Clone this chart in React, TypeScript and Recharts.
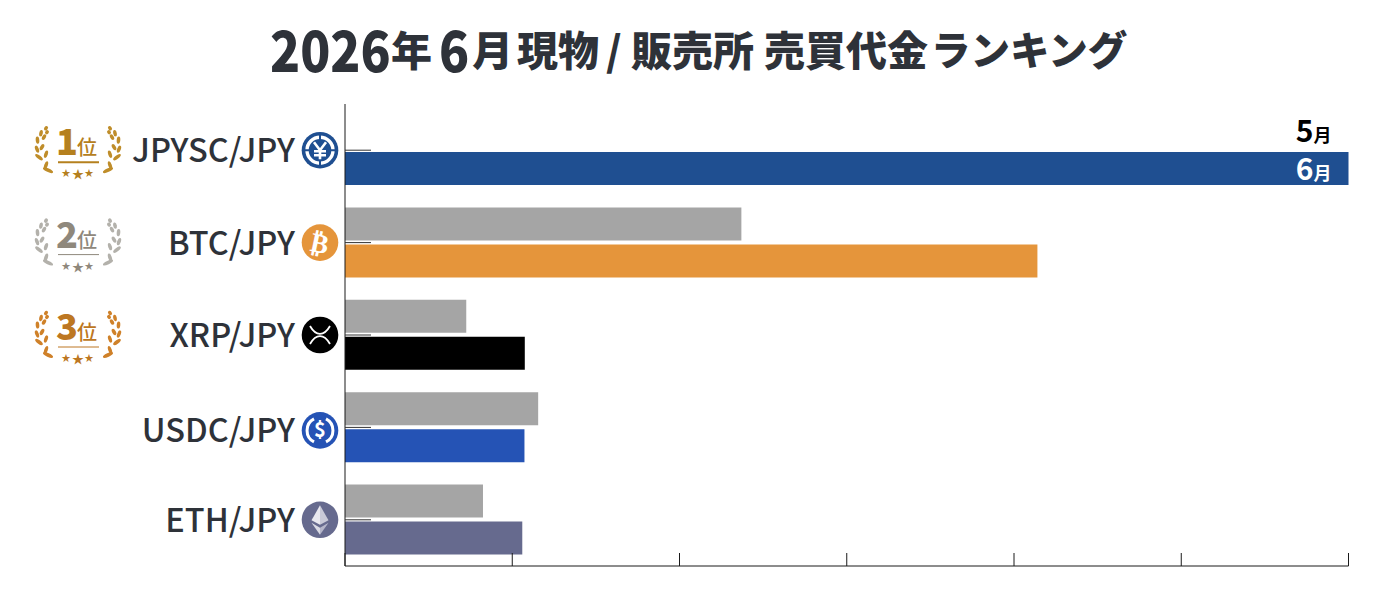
import React from "react";
import { BarChart, Bar, XAxis, YAxis, Cell } from "recharts";

const pairs = ["JPYSC/JPY", "BTC/JPY", "XRP/JPY", "USDC/JPY", "ETH/JPY"];
const mayValues = [0, 237, 72.5, 115.5, 82.5];
const juneValues = [600, 414, 107.5, 107.3, 106];
const juneColors = ["#1F4F91", "#E5953B", "#000000", "#2553B5", "#666A8E"];
const xTicks = [0, 100, 200, 300, 400, 500, 600];
const rankLabels = ["1", "2", "3"];
const rankColors = ["#B5801E", "#8F887C", "#BD7722"];
const wreathColors = ["#BF8D2A", "#B3B1AB", "#CF8129"];
const MAY_LABEL = "5月";
const JUNE_LABEL = "6月";
const titleParts = [
  { text: "2026", left: 270, digit: true },
  { text: "年", left: 391 },
  { text: "6", left: 439, digit: true },
  { text: "月", left: 472 },
  { text: "現物", left: 517 },
  { text: "/", left: 606 },
  { text: "販売所", left: 631 },
  { text: "売買代金", left: 764 },
  { text: "ランキング", left: 931, size: 39.5 },
];

const rows = pairs.map((pair, i) => ({ pair, may: mayValues[i], june: juneValues[i] }));
const FONT = "'Noto Sans CJK JP', 'Noto Sans', sans-serif";
const INK = "#2E3239";

function Wreath({ color, side }: { color: string; side: number }) {
  const leaves = [
    [6, 19, 25, 5.5], [-3, 6, 38, 4.6], [-5, -2, 70, 3.8], [-4.5, -11, 85, 3.6], [-1, -18, 100, 3.2], [4, -23, 125, 2.4],
    [4, 14, -72, 4.2], [4, 3, -72, 3.8], [0, -4, -60, 3.4], [2, -14, -60, 3], [5, -19, -55, 2.2],
  ];
  return (
    <g transform={`scale(${side},1)`}>
      {leaves.map(([x, y, r, len], i) => (
        <ellipse key={i} cx={x} cy={y} rx={len} ry={1.8} fill={color} transform={`rotate(${r} ${x} ${y})`} />
      ))}
    </g>
  );
}

function RankBadge({ index }: { index: number }) {
  const c = rankColors[index];
  const w = wreathColors[index];
  return (
    <g>
      <g transform="translate(-36,0)"><Wreath color={w} side={1} /></g>
      <g transform="translate(36,0)"><Wreath color={w} side={-1} /></g>
      <text x={-11} y={4} textAnchor="middle" fontFamily={FONT} fontWeight={900} fontSize={36} fill={c}>{rankLabels[index]}</text>
      <text x={9} y={4} textAnchor="middle" fontFamily={FONT} fontWeight={500} fontSize={20} fill={c}>位</text>
      <line x1={-20} x2={21} y1={11} y2={11} stroke={c} strokeWidth={index === 0 ? 2 : 1} />
      <text x={-12} y={25} textAnchor="middle" fontFamily={FONT} fontSize={9} fill={c}>★</text>
      <text x={0} y={28} textAnchor="middle" fontFamily={FONT} fontSize={12} fill={c}>★</text>
      <text x={11} y={25} textAnchor="middle" fontFamily={FONT} fontSize={9} fill={c}>★</text>
    </g>
  );
}

function CoinIcon({ index }: { index: number }) {
  const color = juneColors[index];
  const base = <circle r={18.3} fill={color} />;
  if (index === 0) {
    return (
      <g>
        {base}
        <circle r={13} fill="none" stroke="#fff" strokeWidth={3.4} />
        <path d="M0,-16V-10M0,10V16M-16,0H-10M10,0H16" stroke={color} strokeWidth={2} />
        <path d="M-6,-8L0,0L6,-8M0,0V9M-6,1H6M-6,5H6" stroke="#fff" strokeWidth={2.6} fill="none" />
      </g>
    );
  }
  if (index === 1) {
    return (
      <g>
        {base}
        <text y={10} textAnchor="middle" fontFamily="'DejaVu Sans'" fontWeight={700} fontSize={27} fill="#fff" transform="rotate(12)">₿</text>
      </g>
    );
  }
  if (index === 2) {
    return (
      <g>
        {base}
        <path d="M-10,-9C-4,1.5 4,1.5 10,-9M-10,9C-4,-1.5 4,-1.5 10,9" stroke="#fff" strokeWidth={1.8} fill="none" />
      </g>
    );
  }
  if (index === 3) {
    return (
      <g>
        {base}
        <path d="M-6,-11.5A13,13 0 0 0 -6,11.5M6,-11.5A13,13 0 0 1 6,11.5" stroke="#fff" strokeWidth={3} fill="none" />
        <text y={7} textAnchor="middle" fontFamily={FONT} fontWeight={700} fontSize={20} fill="#fff">$</text>
      </g>
    );
  }
  return (
    <g>
      {base}
      <path d="M0,-14.5L-8.5,0.5L0,5Z" fill="#E8E8EF" />
      <path d="M0,-14.5L8.5,0.5L0,5Z" fill="#C9CAD8" />
      <path d="M-8.5,3L0,15L0,8Z" fill="#DADBE5" />
      <path d="M8.5,3L0,15L0,8Z" fill="#B5B6CA" />
    </g>
  );
}

function CategoryTick(props: any) {
  const { x, y, index, payload } = props;
  const shift = index === 3 ? 3 : 0;
  return (
    <g transform={`translate(${x},${y})`}>
      <line x1={0} x2={26} y1={0} y2={0} stroke="#333" strokeWidth={1} />
      <text x={-50} y={12 + shift} textAnchor="end" fontFamily={FONT} fontWeight={500} fontSize={32.5} fill={INK}>
        {payload.value}
      </text>
      <g transform={`translate(-25,${shift})`}><CoinIcon index={index} /></g>
      {index < rankLabels.length && <g transform="translate(-267,1)"><RankBadge index={index} /></g>}
    </g>
  );
}

function ValueTick(props: any) {
  const { x, y } = props;
  return <line x1={x} x2={x} y1={y - 13} y2={y} stroke="#1a1a1a" strokeWidth={1} />;
}

function CornerLabels(props: any) {
  const { x, y, width, height, index } = props;
  if (index !== 0) return null;
  const right = x + width - 17;
  const text = (label: string, dy: number, fill: string) => (
    <text x={right} y={y + dy} textAnchor="end" fontFamily={FONT} fontWeight={700} fill={fill}>
      <tspan fontSize={30}>{label[0]}</tspan>
      <tspan fontSize={18}>{label[1]}</tspan>
    </text>
  );
  return (
    <g>
      {text(MAY_LABEL, -10, "#000")}
      {text(JUNE_LABEL, height - 5, "#fff")}
    </g>
  );
}

export default function App() {
  return (
    <div style={{ position: "absolute", left: 0, top: 0, width: 1400, height: 600, background: "#fff" }}>
      {titleParts.map((part) => (
        <span
          key={part.text}
          style={{
            position: "absolute", left: part.left, top: 12, fontFamily: FONT, fontWeight: 900,
            fontSize: part.digit ? 56 : part.size || 41, lineHeight: "72px", color: INK, whiteSpace: "nowrap",
            transformOrigin: "left center", transform: part.digit ? "scaleX(0.885)" : undefined,
          }}
        >
          {part.text}
        </span>
      ))}
      <BarChart
        width={1400}
        height={600}
        data={rows}
        layout="vertical"
        barSize={33}
        barGap={4}
        margin={{ top: 104, right: 51.5, bottom: 0, left: 0 }}
        style={{ position: "absolute", left: 0, top: 0 }}
      >
        <XAxis
          type="number"
          orientation="bottom"
          domain={[0, 600]}
          ticks={xTicks}
          height={34}
          tickSize={0}
          tickMargin={0}
          tickLine={false}
          interval={0}
          tick={<ValueTick />}
          stroke="#1a1a1a"
        />
        <YAxis
          type="category"
          dataKey="pair"
          width={345}
          tickSize={0}
          tickMargin={0}
          tickLine={false}
          tick={<CategoryTick />}
          stroke="#1a1a1a"
        />
        <Bar dataKey="may" fill="#A5A5A5" isAnimationActive={false} />
        <Bar dataKey="june" isAnimationActive={false} label={<CornerLabels />}>
          {rows.map((r, i) => (
            <Cell key={r.pair} fill={juneColors[i]} />
          ))}
        </Bar>
      </BarChart>
    </div>
  );
}
